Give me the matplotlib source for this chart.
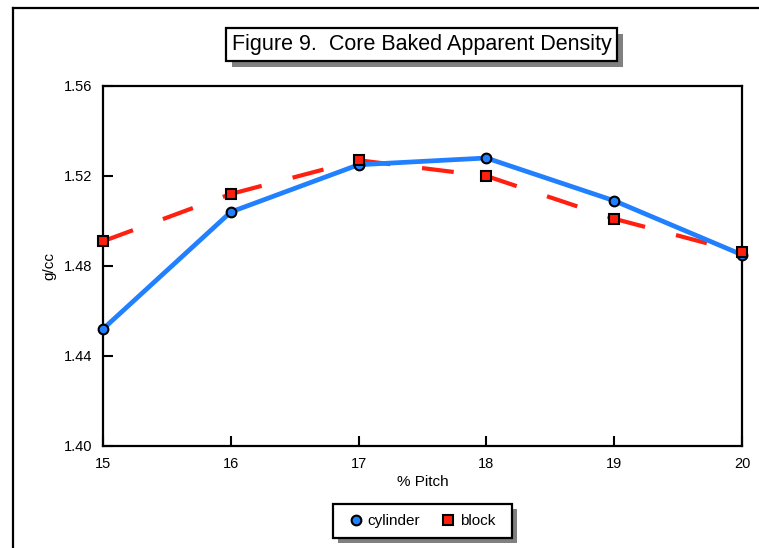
"""Core baked apparent density versus pitch content."""

import matplotlib

matplotlib.use("Agg")

import matplotlib.pyplot as plt
from matplotlib.lines import Line2D
from matplotlib.patches import Rectangle
from matplotlib.ticker import FormatStrFormatter

pitch = [15, 16, 17, 18, 19, 20]
cylinder = [1.452, 1.504, 1.525, 1.528, 1.509, 1.485]
block = [1.491, 1.512, 1.527, 1.520, 1.501, 1.486]

y_ticks = [1.40, 1.44, 1.48, 1.52, 1.56]
x_ticks = [15, 16, 17, 18, 19, 20]

BLUE = "#2080ff"
RED = "#ff2010"
SHADOW = "#808080"

W, H = 759, 548
plt.rcParams["font.family"] = ["Liberation Sans", "DejaVu Sans"]
plt.rcParams["lines.scale_dashes"] = False


def px_rect(x0, y0, x1, y1):
    """Pixel box (top-left origin) to figure fraction (x, y, w, h)."""
    return x0 / W, 1 - y1 / H, (x1 - x0) / W, (y1 - y0) / H


def boxed(fig, x0, y0, x1, y1, shift):
    sx, sy, sw, sh = px_rect(x0 + shift, y0 + shift, x1 + shift, y1 + shift)
    fig.patches.append(Rectangle((sx, sy), sw, sh, transform=fig.transFigure,
                                 facecolor=SHADOW, edgecolor="none", zorder=1))
    bx, by, bw, bh = px_rect(x0, y0, x1, y1)
    fig.patches.append(Rectangle((bx, by), bw, bh, transform=fig.transFigure,
                                 facecolor="white", edgecolor="black",
                                 linewidth=1.6, zorder=2))
    return bx + bw / 2, by + bh / 2


fig = plt.figure(figsize=(W / 100, H / 100), dpi=100)

# outer frame (left and top edges only)
fig.add_artist(Line2D([12.5 / W, 12.5 / W], [0, 1 - 8 / H], color="black", linewidth=1.6))
fig.add_artist(Line2D([12.5 / W, 1], [1 - 8 / H, 1 - 8 / H], color="black", linewidth=1.6))

axis = fig.add_axes(px_rect(103, 86, 742, 446))

for i in range(len(pitch) - 1):
    axis.plot(pitch[i:i + 2], block[i:i + 2], color=RED, linewidth=3.0,
              linestyle=(0, (23, 23)), solid_capstyle="butt",
              dash_capstyle="butt", zorder=2)
axis.plot(pitch, cylinder, color=BLUE, linewidth=3.4, zorder=3)

axis.plot(pitch, cylinder, linestyle="none", marker="o", markersize=7,
          markerfacecolor=BLUE, markeredgecolor="black", markeredgewidth=1.5,
          clip_on=False, zorder=5)
axis.plot(pitch, block, linestyle="none", marker="s", markersize=7,
          markerfacecolor=RED, markeredgecolor="black", markeredgewidth=1.5,
          clip_on=False, zorder=6)

axis.set_xlim(15, 20)
axis.set_ylim(1.40, 1.56)
axis.set_xticks(x_ticks)
axis.set_yticks(y_ticks)
axis.yaxis.set_major_formatter(FormatStrFormatter("%.2f"))
axis.tick_params(direction="in", length=7, width=1.5, labelsize=10.5, pad=8,
                 top=False, right=False)
for spine in axis.spines.values():
    spine.set_linewidth(1.6)
axis.set_xlabel("% Pitch", fontsize=11, labelpad=3)
axis.set_ylabel("g/cc", fontsize=11, labelpad=5)

# title box with drop shadow
tx, ty = boxed(fig, 226, 28, 617, 61, 6)
fig.text(tx, ty, "Figure 9.  Core Baked Apparent Density", fontsize=15.5,
         ha="center", va="center", zorder=3)

# legend box with drop shadow
lx, ly = boxed(fig, 333, 504, 512, 538, 5)
handles = [
    Line2D([], [], linestyle="none", marker="o", markersize=7, markerfacecolor=BLUE,
           markeredgecolor="black", markeredgewidth=1.5, label="cylinder"),
    Line2D([], [], linestyle="none", marker="s", markersize=7, markerfacecolor=RED,
           markeredgecolor="black", markeredgewidth=1.5, label="block"),
]
legend = fig.legend(handles=handles, loc="center", bbox_to_anchor=(lx, ly), ncol=2,
                    frameon=False, fontsize=11, handlelength=0.8,
                    handletextpad=0.4, columnspacing=1.4)
legend.set_zorder(4)

fig.savefig("out.png", dpi=100)
